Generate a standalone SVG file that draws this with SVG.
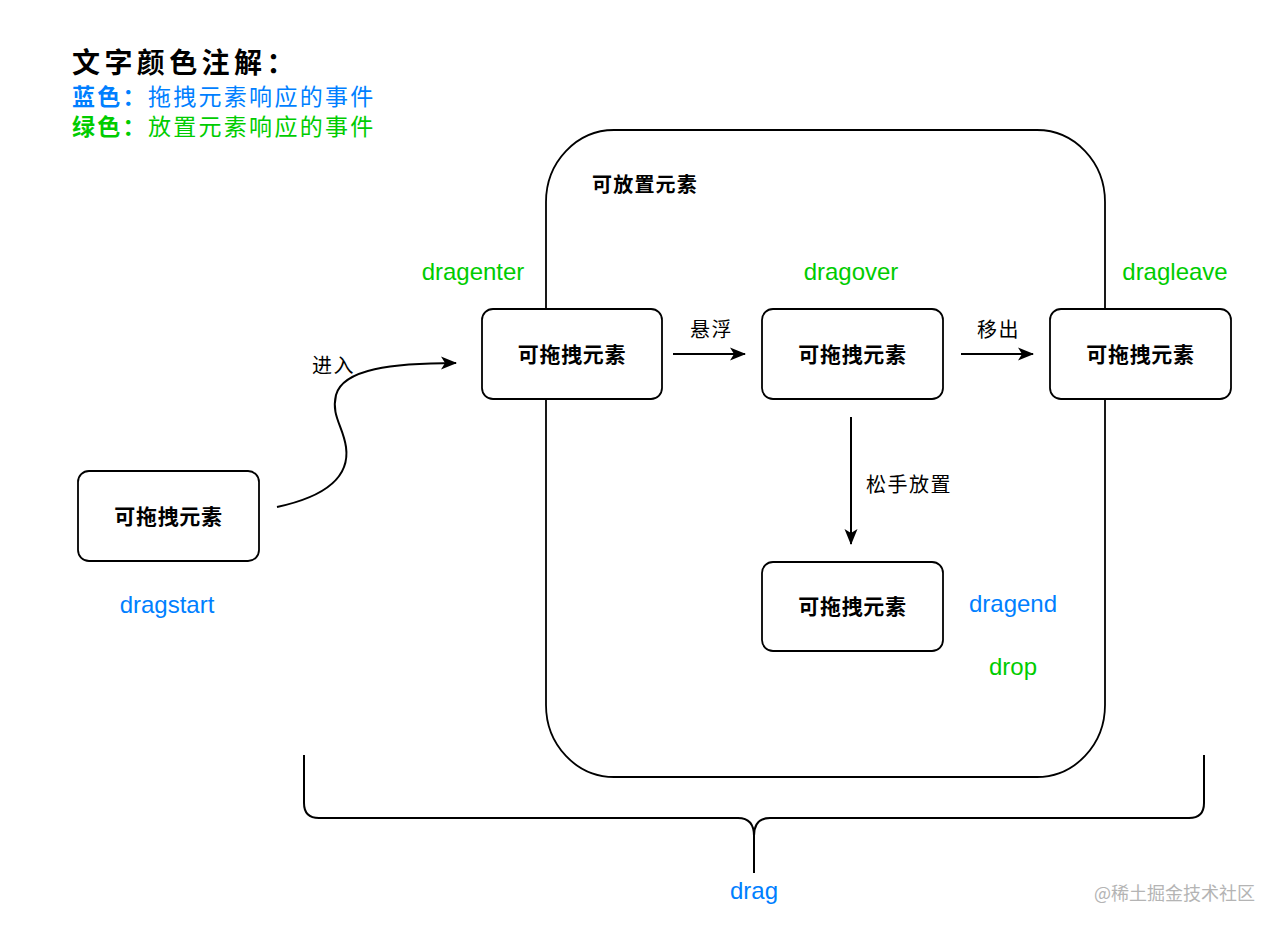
<svg xmlns="http://www.w3.org/2000/svg" width="1280" height="930" viewBox="0 0 1280 930">
<style>
.cjk{font-family:"Noto Sans CJK SC","Noto Sans",sans-serif}
.lat{font-family:"Liberation Sans",Arial,sans-serif;font-size:24px;text-anchor:middle}
.blue{fill:#007FFF}
.green{fill:#00CC00}
.box{fill:#fff;stroke:#000;stroke-width:1.8}
.nt{font-family:"Noto Sans CJK SC","Noto Sans",sans-serif;font-size:21px;font-weight:bold;letter-spacing:0.7px;text-anchor:middle;fill:#000}
.el{font-family:"Noto Sans CJK SC","Noto Sans",sans-serif;font-size:20px;letter-spacing:1.5px;fill:#000}
.ln{fill:none;stroke:#000;stroke-width:2}
</style>
<defs>
<marker id="arr" markerUnits="userSpaceOnUse" markerWidth="17" markerHeight="14" refX="15" refY="7" orient="auto">
<path d="M0,0.5 L16,7 L0,13.5 L4,7 Z" fill="#000"/>
</marker>
</defs>
<rect width="1280" height="930" fill="#fff"/>
<g id="legend">
<text class="cjk" x="72" y="73" font-size="28" font-weight="bold" letter-spacing="4.4" fill="#000">文字颜色注解：</text>
<text class="cjk blue" x="72" y="105" font-size="23" letter-spacing="2.3"><tspan font-weight="bold">蓝色：</tspan>拖拽元素响应的事件</text>
<text class="cjk green" x="72" y="135" font-size="23" letter-spacing="2.3"><tspan font-weight="bold">绿色：</tspan>放置元素响应的事件</text>
</g>
<g id="drop-zone">
<rect x="546" y="130" width="559" height="647" rx="68" ry="72" fill="none" stroke="#000" stroke-width="1.8"/>
<text class="cjk" x="592" y="192" font-size="20" font-weight="bold" letter-spacing="1.2" fill="#000">可放置元素</text>
</g>
<g id="connectors">
<path class="ln" d="M277,507 C328,496 350,476 346,447 C343,426 331,416 336,395 C343,369 392,363 456,363" marker-end="url(#arr)"/>
<line class="ln" x1="673" y1="354" x2="745" y2="354" marker-end="url(#arr)"/>
<line class="ln" x1="961" y1="354" x2="1033" y2="354" marker-end="url(#arr)"/>
<line class="ln" x1="851" y1="417" x2="851" y2="544" marker-end="url(#arr)"/>
<text class="el" x="312" y="373">进入</text>
<text class="el" x="690" y="337">悬浮</text>
<text class="el" x="977" y="337">移出</text>
<text class="el" x="866" y="492">松手放置</text>
</g>
<g id="node-start">
<rect class="box" x="78" y="471" width="181" height="90" rx="11"/>
<text class="nt" x="168.5" y="524">可拖拽元素</text>
<text class="lat blue" x="167" y="613">dragstart</text>
</g>
<g id="node-enter">
<rect class="box" x="482" y="309" width="180" height="90" rx="11"/>
<text class="nt" x="572" y="362">可拖拽元素</text>
<text class="lat green" x="473" y="280">dragenter</text>
</g>
<g id="node-over">
<rect class="box" x="762" y="309" width="181" height="90" rx="11"/>
<text class="nt" x="852.5" y="362">可拖拽元素</text>
<text class="lat green" x="851" y="280">dragover</text>
</g>
<g id="node-leave">
<rect class="box" x="1050" y="309" width="181" height="90" rx="11"/>
<text class="nt" x="1140.5" y="362">可拖拽元素</text>
<text class="lat green" x="1175" y="280">dragleave</text>
</g>
<g id="node-end">
<rect class="box" x="762" y="562" width="181" height="89" rx="11"/>
<text class="nt" x="852.5" y="614">可拖拽元素</text>
<text class="lat blue" x="1013" y="612">dragend</text>
<text class="lat green" x="1013" y="675">drop</text>
</g>
<g id="drag-brace">
<path class="ln" d="M304,755 L304,803 Q304,818 319,818 L738,818 Q754,818 754,836 L754,873 M754,836 Q754,818 770,818 L1189,818 Q1204,818 1204,803 L1204,755"/>
<text class="lat blue" x="754" y="899">drag</text>
</g>
<text class="cjk" x="1255" y="900" font-size="18" text-anchor="end" fill="#b4b4b4">@稀土掘金技术社区</text>
</svg>
